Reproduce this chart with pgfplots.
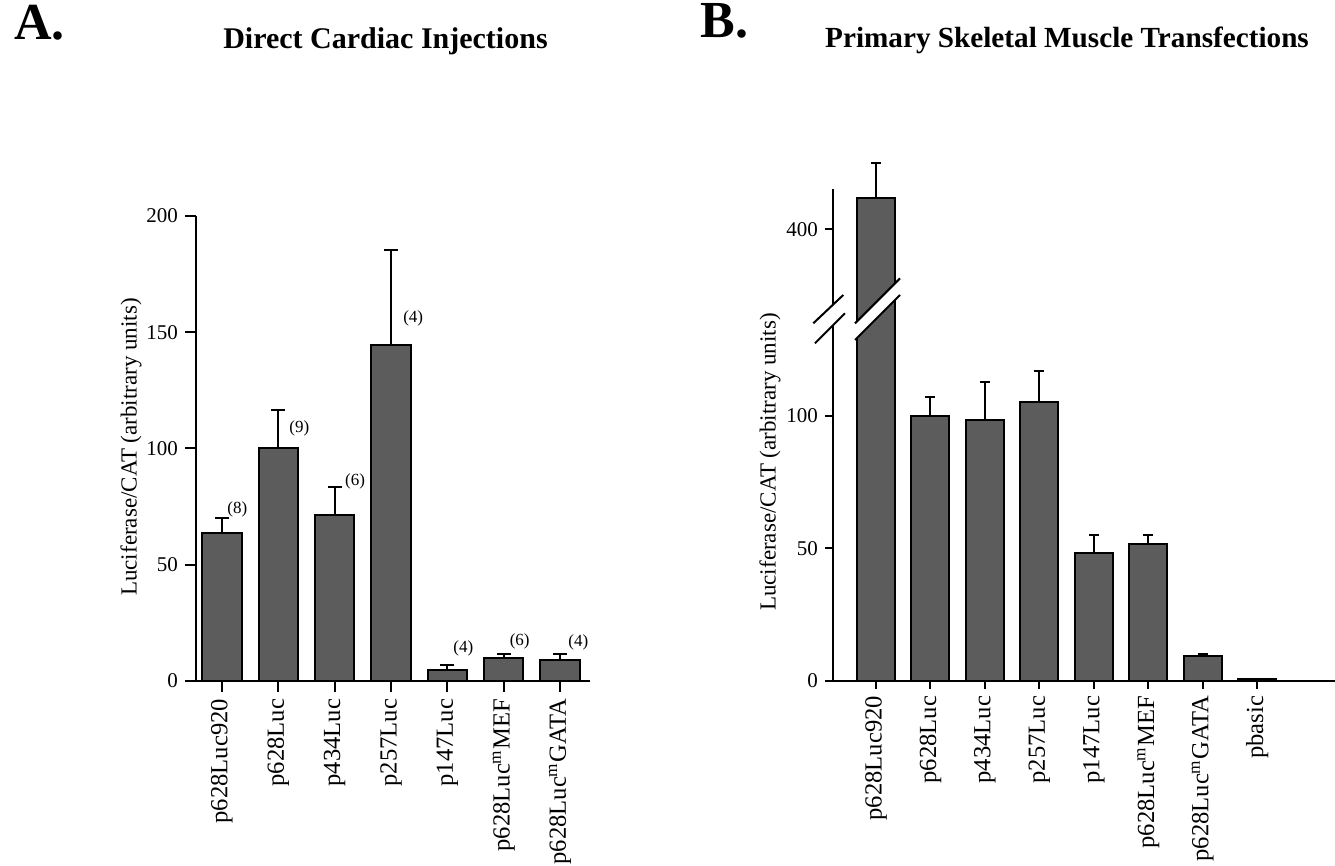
\documentclass[border=0pt]{standalone}
\usepackage{fontspec}
\setmainfont{Liberation Serif}
\usepackage{pgfplots}
\usepackage{pgfplotstable}
\pgfplotsset{compat=1.18}
\definecolor{barfill}{RGB}{92,92,92}

% Panel A: direct cardiac injections (x = category index, y = mean, e = + error)
\pgfplotstableread{
x y e
0 63.5 6.5
1 100.1 16.6
2 71.6 11.7
3 144.3 40.9
4 4.9 1.9
5 9.8 2.0
6 9.2 2.6
}\dataA

% Panel B: primary skeletal muscle transfections
\pgfplotstableread{
x y e
0 411.8 13.2
1 100.0 7.2
2 98.3 14.3
3 105.3 11.7
4 48.4 6.6
5 51.5 3.5
6 9.5 0.6
7 0.8 0
}\dataB

\pgfplotsset{
  panel/.style={
    scale only axis,
    ybar,
    enlargelimits=false,
    axis x line=bottom, axis y line=left,
    axis line style={line width=1pt,-},
    tick style={line width=1pt,black},
    tick align=outside,
    /pgf/number format/assume math mode=true,
    yticklabel style={font=\fontsize{10.5}{12}\selectfont},
    xticklabel style={font=\fontsize{12.3}{14}\selectfont, rotate=90, anchor=east},
  },
  barplot/.style={fill=barfill, draw=black, line width=1pt,
    error bars/.cd, y dir=plus, y explicit,
    error bar style={line width=1pt,black},
    error mark options={rotate=90, mark size=#1, line width=1pt, black}},
}

\begin{document}
\begin{tikzpicture}
\useasboundingbox (0,0) rectangle (667.5pt,433pt);

% ---------------- Panel A ----------------
\begin{axis}[panel,
  at={(98pt,92.5pt)}, anchor=south west,
  width=197pt, height=232.5pt,
  xmin=-0.46, xmax=6.53, ymin=0, ymax=200,
  ytick={0,50,100,150,200},
  xtick={0,...,6},
  xticklabels={p628Luc920,p628Luc,p434Luc,p257Luc,p147Luc,p628Luc\textsuperscript{m}MEF,p628Luc\textsuperscript{m}GATA},
  major tick length=5.5pt,
  bar width=19.7pt]
\addplot[barplot=3.5pt] table[x=x,y=y,y error=e] {\dataA};
\begin{scope}[every node/.style={font=\fontsize{8.5}{10}\selectfont, anchor=west, inner sep=0pt}]
\node at (axis cs:0.09,74) {(8)};
\node at (axis cs:1.19,108.8) {(9)};
\node at (axis cs:2.18,85.7) {(6)};
\node at (axis cs:3.21,156) {(4)};
\node at (axis cs:4.10,14.2) {(4)};
\node at (axis cs:5.10,17) {(6)};
\node at (axis cs:6.14,16.6) {(4)};
\end{scope}
\end{axis}

% ---------------- Panel B (upper segment, only the first bar reaches it) ----------------
\begin{axis}[panel,
  at={(416.5pt,264pt)}, anchor=south west,
  width=251pt, height=94.15pt,
  xmin=-0.79, xmax=8.43, ymin=359, ymax=430,
  axis x line=none,
  y axis line style={draw=none},
  ytick={400},
  xtick=\empty,
  major tick length=4pt,
  bar width=19pt]
\addplot[skip coords between index={1}{8}, barplot=2.5pt] table[x=x,y=y,y error=e] {\dataB};
\end{axis}

% ---------------- Panel B (lower segment) ----------------
\begin{axis}[panel,
  at={(416.5pt,92.5pt)}, anchor=south west,
  width=251pt, height=200.5pt,
  xmin=-0.79, xmax=8.43, ymin=0, ymax=151.2,
  ytick={0,50,100},
  xtick={0,...,7},
  xticklabels={p628Luc920,p628Luc,p434Luc,p257Luc,p147Luc,p628Luc\textsuperscript{m}MEF,p628Luc\textsuperscript{m}GATA,pbasic},
  major tick length=4pt,
  bar width=19pt]
\addplot[barplot=2.5pt] table[x=x,y=y,y error=e] {\dataB};
\end{axis}

% upper part of the broken y axis
\draw[line width=1pt] (416.5pt,264pt) -- (416.5pt,338.5pt);

% axis break marks
\fill[white] (406.65pt,271.35pt) -- (421.65pt,285.5pt) -- (422.5pt,276.35pt) -- (407.5pt,261.35pt) -- cycle;
\draw[line width=1pt] (406.65pt,271.35pt) -- (421.65pt,285.5pt);
\draw[line width=1pt] (407.5pt,261.35pt) -- (422.5pt,276.35pt);
\fill[white] (427.5pt,271.3pt) -- (450pt,293.8pt) -- (450pt,285.5pt) -- (427.5pt,263pt) -- cycle;
\draw[line width=1pt] (427.5pt,271.3pt) -- (450pt,293.8pt);
\draw[line width=1pt] (427.5pt,263pt) -- (450pt,285.5pt);

% titles and labels
\node[anchor=base west, font=\fontsize{26}{29}\selectfont\bfseries, inner sep=0pt] at (7pt,413pt) {A.};
\node[anchor=base west, font=\fontsize{26}{29}\selectfont\bfseries, inner sep=0pt] at (350pt,414pt) {B.};
\node[anchor=base, font=\fontsize{15}{17}\selectfont\bfseries, inner sep=0pt] at (192.75pt,408.5pt) {Direct Cardiac Injections};
\node[anchor=base, font=\fontsize{14.6}{17}\selectfont\bfseries, inner sep=0pt] at (533.5pt,409pt) {Primary Skeletal Muscle Transfections};
\node[rotate=90, font=\fontsize{11.5}{13}\selectfont, inner sep=0pt] at (65.5pt,209.5pt) {Luciferase/CAT (arbitrary units)};
\node[rotate=90, font=\fontsize{11.5}{13}\selectfont, inner sep=0pt] at (385pt,202pt) {Luciferase/CAT (arbitrary units)};
\end{tikzpicture}
\end{document}
